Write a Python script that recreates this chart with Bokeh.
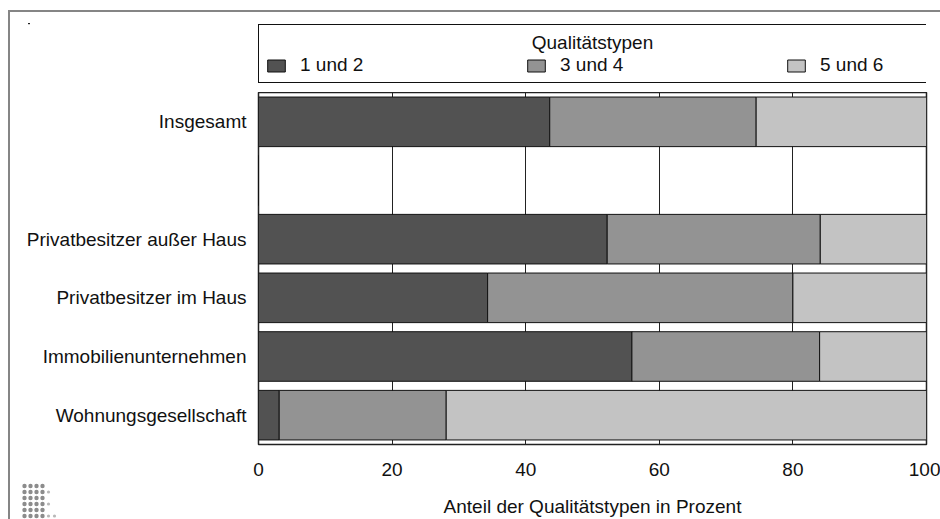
from urllib.parse import quote
from bokeh.plotting import figure
from bokeh.layouts import column
from bokeh.models import (FactorRange, Range1d, ColumnDataSource, Legend, LegendItem,
                          FixedTicker, Label)
from bokeh.embed import file_html
from bokeh.resources import INLINE

# ---- data ----
categories = ["Insgesamt", " ", "Privatbesitzer außer Haus", "Privatbesitzer im Haus",
              "Immobilienunternehmen", "Wohnungsgesellschaft"]
typ_12 = [43.6, 0, 52.2, 34.3, 55.9, 3.1]
typ_34 = [30.9, 0, 31.9, 45.7, 28.1, 25.0]
typ_56 = [25.5, 0, 15.9, 20.0, 16.0, 71.9]
series_labels = ["1 und 2", "3 und 4", "5 und 6"]
x_ticks = [0, 20, 40, 60, 80, 100]
legend_title = "Qualitätstypen"
x_title = "Anteil der Qualitätstypen in Prozent"

colors = ["#525252", "#939393", "#c3c3c3"]
FONT = "Liberation Sans"
FS = "19px"
TXT = "#111111"

src = ColumnDataSource(dict(cat=categories, s12=typ_12, s34=typ_34, s56=typ_56))
stack_cols = ["s12", "s34", "s56"]

# ---------- legend strip (top) ----------
top = figure(width=940, height=92, output_backend="svg", toolbar_location=None,
             x_range=Range1d(0, 100), y_range=FactorRange(factors=list(reversed(categories))),
             x_axis_location=None, y_axis_location=None,
             min_border_left=258, min_border_right=14, min_border_top=0, min_border_bottom=0)
top.border_fill_color = None
top.background_fill_color = None
top.outline_line_color = None
top.grid.grid_line_color = None
# hidden copies of the stacked bars: only their legend swatches are shown
swatches = top.hbar_stack(stack_cols, y="cat", height=0.845, color=colors,
                          line_color="#111111", line_width=1, source=src)
for r in swatches:
    r.visible = False

legend = Legend(items=[LegendItem(label=series_labels[i], renderers=[swatches[i]]) for i in range(3)],
                orientation="horizontal", location=(0, 9), margin=0, padding=6,
                glyph_width=22, glyph_height=15, label_standoff=13, label_width=100,
                label_height=14, spacing=125, label_text_font=FONT, label_text_font_size=FS,
                label_text_color=TXT,
                title=" ", title_text_font=FONT, title_text_font_size="12px",
                title_standoff=9, border_line_color="#111111", border_line_width=1.5,
                border_line_alpha=1.0, background_fill_color=None,
                inactive_fill_alpha=0.0)
top.add_layout(legend, "center")
top.add_layout(Label(x=50, y=50, x_units="data", y_units="screen", text=legend_title,
                     text_font=FONT, text_font_size=FS, text_color=TXT,
                     text_align="center", text_baseline="middle"))

# ---------- main chart ----------
p = figure(width=940, height=427, output_backend="svg", toolbar_location=None,
           y_range=FactorRange(factors=list(reversed(categories))),
           x_range=Range1d(0, 100),
           min_border_left=258, min_border_right=14, min_border_top=0, min_border_bottom=72)
p.border_fill_color = None
p.background_fill_color = "white"

rs = p.hbar_stack(stack_cols, y="cat", height=0.845, color=colors,
                  line_color="#111111", line_width=1, source=src)

p.outline_line_color = "#222222"
p.outline_line_width = 1.5
p.ygrid.grid_line_color = None
p.xgrid.grid_line_color = "#222222"
p.xgrid.grid_line_width = 1
p.xgrid.ticker = FixedTicker(ticks=x_ticks)

xa = p.xaxis[0]
xa.ticker = FixedTicker(ticks=x_ticks)
xa.axis_line_color = None
xa.major_tick_line_color = None
xa.minor_tick_line_color = None
xa.major_tick_out = 0
xa.major_tick_in = 0
xa.major_label_standoff = 18
xa.major_label_text_font = FONT
xa.major_label_text_font_size = FS
xa.major_label_text_color = TXT
xa.axis_label = x_title
xa.axis_label_text_font = FONT
xa.axis_label_text_font_size = FS
xa.axis_label_text_font_style = "normal"
xa.axis_label_text_color = TXT
xa.axis_label_standoff = 17

ya = p.yaxis[0]
ya.axis_line_color = None
ya.major_tick_line_color = None
ya.major_tick_out = 0
ya.major_tick_in = 0
ya.major_label_standoff = 12
ya.major_label_text_font = FONT
ya.major_label_text_font_size = FS
ya.major_label_text_color = TXT

# decorative page frame + dot logo as background (no data)
logo_rows = [4, 5, 4, 5, 4, 6]
dots = []
for r, n in enumerate(logo_rows):
    for c in range(n):
        faded = c >= 4
        dots.append("<circle cx='%.1f' cy='%.1f' r='%.1f' fill='%s'/>" % (
            24.5 + 6 * c, 486 + 6 * r, 1.6 if faded else 2.2, "#b8b8b8" if faded else "#8c8c8c"))
bg_svg = ("<svg xmlns='http://www.w3.org/2000/svg' width='940' height='519'>"
          "<path d='M9,519 V11 H940' fill='none' stroke='#858585' stroke-width='2'/>"
          "<rect x='28' y='23' width='2' height='1.2' fill='#222'/>" + "".join(dots) + "</svg>")

layout = column(top, p, spacing=0)
layout.styles = {"background-color": "white",
                 "background-image": "url(\"data:image/svg+xml," + quote(bg_svg) + "\")",
                 "background-repeat": "no-repeat"}

open("out.html", "w").write(file_html(layout, INLINE))
